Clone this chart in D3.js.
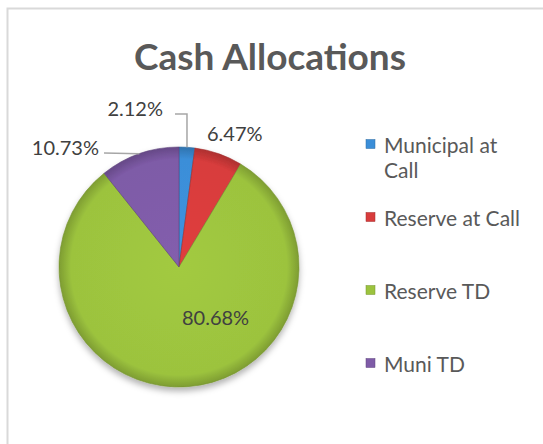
<!DOCTYPE html>
<html>
<head>
<meta charset="utf-8">
<script src="https://cdn.jsdelivr.net/npm/d3@7"></script>
<style>
  body { margin: 0; background: #ffffff; }
  text { font-family: Lato, "Open Sans", sans-serif; }
</style>
</head>
<body>
<div id="chart"></div>
<script>
// chart data
const categories = ["Municipal at Call", "Reserve at Call", "Reserve TD", "Muni TD"];
const shares = [2.12, 6.47, 80.68, 10.73];
const sliceColors = ["#3b8ed8", "#d83c3c", "#9cc33e", "#7e5ba7"];
const chartTitle = "Cash Allocations";

const width = 543, height = 444;
const cx = 179, cy = 267, radius = 120;

const svg = d3.select("#chart")
    .append("svg")
    .attr("width", width)
    .attr("height", height);

// chart frame (only left/top edges are visible in the crop)
svg.append("rect")
    .attr("x", 7.5)
    .attr("y", 8.5)
    .attr("width", 600)
    .attr("height", 500)
    .attr("fill", "#ffffff")
    .attr("stroke", "#d9d9d9")
    .attr("stroke-width", 2);

const defs = svg.append("defs");
defs.append("filter")
    .attr("id", "shadow")
    .attr("x", "-20%").attr("y", "-20%")
    .attr("width", "140%").attr("height", "140%")
    .append("feDropShadow")
    .attr("dx", 0).attr("dy", 4)
    .attr("stdDeviation", 3)
    .attr("flood-color", "#000")
    .attr("flood-opacity", 0.3);

sliceColors.forEach((c, i) => {
    const g = defs.append("radialGradient")
        .attr("id", "grad" + i)
        .attr("gradientUnits", "userSpaceOnUse")
        .attr("cx", 0).attr("cy", 0).attr("r", radius);
    g.append("stop").attr("offset", "0%").attr("stop-color", d3.color(c).brighter(0.1));
    g.append("stop").attr("offset", "90%").attr("stop-color", c);
    g.append("stop").attr("offset", "100%").attr("stop-color", d3.color(c).darker(0.6));
});

svg.append("text")
    .attr("x", 270)
    .attr("y", 70)
    .attr("text-anchor", "middle")
    .attr("font-size", "37px")
    .attr("font-weight", "bold")
    .attr("fill", "#595959")
    .text(chartTitle);

const pie = d3.pie().sort(null).value(d => d);
const arcs = pie(shares);
const arc = d3.arc().innerRadius(0).outerRadius(radius);

const pieG = svg.append("g")
    .attr("transform", `translate(${cx},${cy})`);

pieG.append("g")
    .attr("filter", "url(#shadow)")
    .selectAll("path")
    .data(arcs)
    .join("path")
    .attr("d", arc)
    .attr("fill", (d, i) => `url(#grad${i})`)
    .attr("stroke", (d, i) => d3.color(sliceColors[i]).darker(0.8))
    .attr("stroke-width", 0.6);

// data labels: where each sits relative to the pie centre
const labelLayout = [
    { x: -16, y: -159, anchor: "end", leader: "elbow" },
    { x: 28, y: -134, anchor: "start", leader: null },
    { x: 3, y: 50, anchor: "start", leader: null },
    { x: -80, y: -120, anchor: "end", leader: "straight" }
];

const fmt = d => d.toFixed(2) + "%";
const edge = d => {
    const a = (d.startAngle + d.endAngle) / 2;
    return [radius * Math.sin(a), -radius * Math.cos(a)];
};

arcs.forEach((d, i) => {
    const lay = labelLayout[i];
    pieG.append("text")
        .attr("x", lay.x)
        .attr("y", lay.y)
        .attr("text-anchor", lay.anchor)
        .attr("dominant-baseline", "central")
        .attr("font-size", "20px")
        .attr("fill", "#404040")
        .text(fmt(d.data));

    const [ex, ey] = edge(d);
    if (lay.leader === "elbow") {
        pieG.append("polyline")
            .attr("points", `${lay.x + 12},${lay.y + 6} ${ex},${lay.y + 6} ${ex},${ey}`)
            .attr("fill", "none")
            .attr("stroke", "#a6a6a6")
            .attr("stroke-width", 1.5);
    } else if (lay.leader === "straight") {
        pieG.append("polyline")
            .attr("points", `${lay.x + 5},${lay.y + 6} ${ex},${ey}`)
            .attr("fill", "none")
            .attr("stroke", "#a6a6a6")
            .attr("stroke-width", 1.5);
    }
});

// legend
const legendY = d3.scalePoint()
    .domain(categories)
    .range([144, 363]);

const legend = svg.append("g");
categories.forEach((c, i) => {
    const y = legendY(c);
    legend.append("rect")
        .attr("x", 366)
        .attr("y", y - 4.5)
        .attr("width", 9)
        .attr("height", 9)
        .attr("fill", sliceColors[i])
        .attr("stroke", d3.color(sliceColors[i]).darker(0.8))
        .attr("stroke-width", 0.5);

    const txt = legend.append("text")
        .attr("x", 384)
        .attr("y", y)
        .attr("dominant-baseline", "central")
        .attr("font-size", "21px")
        .attr("fill", "#595959");

    // wrap long entries onto a second line
    const words = c.split(" ");
    let line = [];
    let tspan = txt.append("tspan").attr("x", 384).attr("dy", 0);
    words.forEach(w => {
        line.push(w);
        tspan.text(line.join(" "));
        if (tspan.node().getComputedTextLength() > 145 && line.length > 1) {
            line.pop();
            tspan.text(line.join(" "));
            line = [w];
            tspan = txt.append("tspan").attr("x", 384).attr("dy", 25).text(w);
        }
    });
});
</script>
</body>
</html>
